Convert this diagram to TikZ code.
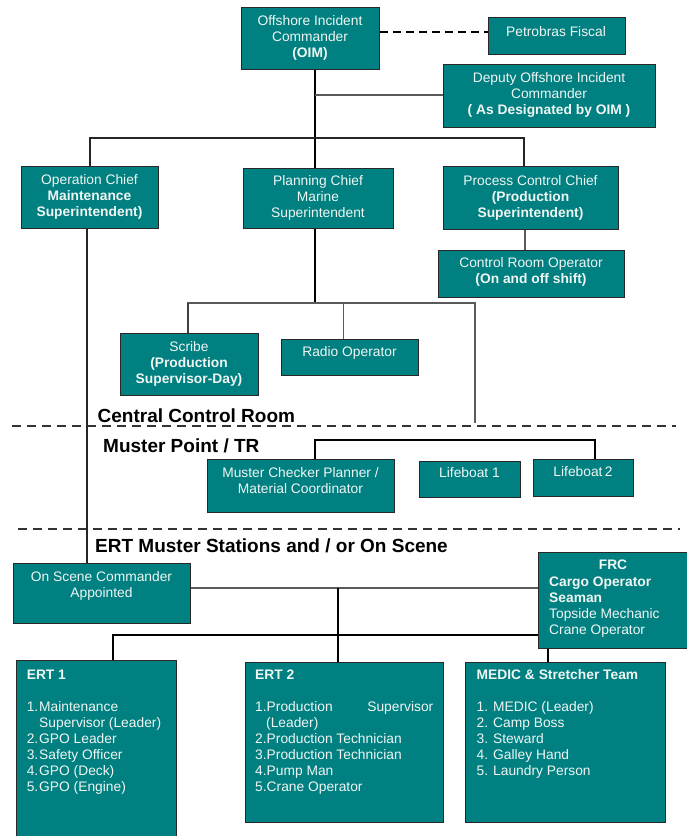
\documentclass[tikz,border=0pt]{standalone}
\usepackage{fontspec}
\setmainfont{Liberation Sans}
\usetikzlibrary{calc}
\definecolor{tealbox}{RGB}{0,128,128}
\definecolor{edgec}{RGB}{40,40,40}
\definecolor{linegray}{RGB}{90,90,90}
\definecolor{boxtext}{RGB}{240,246,244}
\begin{document}
\begin{tikzpicture}[x=1pt,y=-1pt,
  box/.style={draw=edgec, line width=1pt, fill=tealbox, inner sep=0pt, anchor=north west},
  txt/.style={text=boxtext, font=\fontsize{13.8}{16}\selectfont, align=center, inner sep=0pt},
  ltxt/.style={text=boxtext, font=\fontsize{13.8}{16}\selectfont, inner sep=0pt, anchor=base west},
  hdr/.style={font=\bfseries\fontsize{19}{22}\selectfont, inner sep=0pt, anchor=base west},
  conn/.style={line width=1.2pt, draw=black},
  gconn/.style={line width=1.8pt, draw=linegray},
  thick conn/.style={line width=2.2pt, draw=black!85},
  sepline/.style={line width=1.2pt, draw=black!80, dash pattern=on 9pt off 6pt}
]
\useasboundingbox[fill=white] (0,0) rectangle (687,836);

% ---------- boxes ----------
\node[box, minimum width=138pt, minimum height=62pt] (oim) at (241,7) {};
\node[box, minimum width=137pt, minimum height=37pt] (pf) at (488,17) {};
\node[box, minimum width=212pt, minimum height=63pt] (dep) at (443,64) {};
\node[box, minimum width=137pt, minimum height=62pt] (opc) at (21,166) {};
\node[box, minimum width=150pt, minimum height=60pt] (plc) at (243,168) {};
\node[box, minimum width=175pt, minimum height=63pt] (pcc) at (443,166) {};
\node[box, minimum width=186pt, minimum height=47pt] (cro) at (438,250) {};
\node[box, minimum width=138pt, minimum height=62pt] (scr) at (120,333) {};
\node[box, minimum width=137pt, minimum height=36pt] (rad) at (281,339) {};
\node[box, minimum width=187pt, minimum height=53pt] (mcp) at (207,459) {};
\node[box, minimum width=101pt, minimum height=36pt] (lbo) at (419,461) {};
\node[box, minimum width=100pt, minimum height=37pt] (lbt) at (533,459) {};
\node[box, minimum width=177pt, minimum height=60pt] (osc) at (13,563) {};
\node[box, minimum width=152pt, minimum height=96pt] (frc) at (538,552) {};
\node[box, minimum width=160pt, minimum height=185pt] (erto) at (15.5,660) {};
\node[box, minimum width=198pt, minimum height=160pt] (ertt) at (245,662) {};
\node[box, minimum width=200pt, minimum height=160pt] (med) at (465,662) {};

% ---------- box texts ----------
\node[txt] (oimt) at (310,38) {Offshore Incident\\Commander\\\textbf{(OIM)}};
\node[txt] (pft) at (556,32) {Petrobras Fiscal};
\node[txt] (dept) at (549,94.5) {Deputy Offshore Incident\\Commander\\\textbf{( As Designated by OIM )}};
\node[txt] (opct) at (89.5,196.5) {Operation Chief\\\textbf{Maintenance}\\\textbf{Superintendent)}};
\node[txt] (plct) at (318,198) {Planning Chief\\Marine\\Superintendent};
\node[txt] (pcct) at (530.5,197.5) {Process Control Chief\\\textbf{(Production}\\\textbf{Superintendent)}};
\node[txt] (crot) at (531,271.5) {Control Room Operator\\\textbf{(On and off shift)}};
\node[txt] (scrt) at (189,363.5) {Scribe\\\textbf{(Production}\\\textbf{Supervisor-Day)}};
\node[txt] (radt) at (349.5,352.5) {Radio Operator};
\node[txt] (mcpt) at (300.5,481) {Muster Checker Planner /\\Material Coordinator};
\node[txt] (lbot) at (469.5,473) {Lifeboat 1};
\node[txt] (lbtt) at (583,472) {Lifeboat\,2};
\node[txt] (osct) at (101.5,585.5) {On Scene Commander\\Appointed};

% FRC
\node[txt, font=\bfseries\fontsize{13.8}{16}\selectfont] (frch) at (613,565) {FRC};
\node[ltxt, font=\bfseries\fontsize{13.8}{16}\selectfont] (frc1) at (549,586) {Cargo Operator};
\node[ltxt, font=\bfseries\fontsize{13.8}{16}\selectfont] (frc2) at (549,602) {Seaman};
\node[ltxt] (frc3) at (549,618) {Topside Mechanic};
\node[ltxt] (frc4) at (549,634) {Crane Operator};

% ERT 1
\node[ltxt, font=\bfseries\fontsize{13.8}{16}\selectfont] (eoh) at (26.6,679) {ERT 1};
\node[ltxt] (eo1) at (26.6,711) {\makebox[12.4pt][l]{1.}Maintenance};
\node[ltxt] (eo1b) at (39,727) {Supervisor (Leader)};
\node[ltxt] (eo2) at (26.6,743) {\makebox[12.4pt][l]{2.}GPO Leader};
\node[ltxt] (eo3) at (26.6,759) {\makebox[12.4pt][l]{3.}Safety Officer};
\node[ltxt] (eo4) at (26.6,775) {\makebox[12.4pt][l]{4.}GPO (Deck)};
\node[ltxt] (eo5) at (26.6,791) {\makebox[12.4pt][l]{5.}GPO (Engine)};

% ERT 2
\node[ltxt, font=\bfseries\fontsize{13.8}{16}\selectfont] (eth) at (255,679) {ERT 2};
\node[ltxt] (et1) at (255,711) {1.Production};
\node[ltxt, anchor=base east] (et1s) at (433.5,711) {Supervisor};
\node[ltxt] (et1b) at (266,727) {(Leader)};
\node[ltxt] (et2) at (255,743) {2.Production Technician};
\node[ltxt] (et3) at (255,759) {3.Production Technician};
\node[ltxt] (et4) at (255,775) {4.Pump Man};
\node[ltxt] (et5) at (255,791) {5.Crane Operator};

% MEDIC
\node[ltxt, font=\bfseries\fontsize{13.8}{16}\selectfont] (mdh) at (476.5,679) {MEDIC \& Stretcher Team};
\node[ltxt] (md1) at (476.5,711) {\makebox[16.5pt][l]{1.}MEDIC (Leader)};
\node[ltxt] (md2) at (476.5,727) {\makebox[16.5pt][l]{2.}Camp Boss};
\node[ltxt] (md3) at (476.5,743) {\makebox[16.5pt][l]{3.}Steward};
\node[ltxt] (md4) at (476.5,759) {\makebox[16.5pt][l]{4.}Galley Hand};
\node[ltxt] (md5) at (476.5,775) {\makebox[16.5pt][l]{5.}Laundry Person};

% ---------- headers ----------
\node[hdr] (hccr) at (97.5,422) {Central Control Room};
\node[hdr] (hmp) at (103,452) {Muster Point / TR};
\node[hdr] (hert) at (95,552) {ERT Muster Stations and / or On Scene};

% ---------- separators ----------
\coordinate (sAa) at (12,426); \coordinate (sAb) at (676,426);
\coordinate (sBa) at (18,529); \coordinate (sBb) at (680,529);
\draw[sepline] (sAa) -- (sAb);
\draw[sepline] (sBa) -- (sBb);

% ---------- connectors ----------
\coordinate (yPF) at (430,32);
\draw[line width=1.3pt, dash pattern=on 8pt off 5pt] (oim.east |- yPF) -- (pf.west |- yPF);

\coordinate (jA) at (315,138);
\coordinate (jD) at (315,95);
\draw[conn] (oim.south -| jA) -- (plc.north -| jA);
\draw[gconn, line width=2.2pt] (jD) -- (dep.west |- jD);
\coordinate (jL) at (90,138); \coordinate (jR) at (524,138);
\draw[thick conn] (opc.north -| jL) -- (jL) -- (jR) -- (pcc.north -| jR);
\coordinate (jP) at (525,240);
\draw[gconn] (pcc.south -| jP) -- (cro.north -| jP);
\coordinate (jO) at (87,400);
\draw[thick conn] (opc.south -| jO) -- (osc.north -| jO);

\coordinate (jB) at (315,303);
\coordinate (jBa) at (188,303); \coordinate (jBb) at (343.5,303); \coordinate (jBc) at (475,303);
\coordinate (cfree) at (475,423);
\draw[conn] (plc.south -| jB) -- (jB);
\draw[gconn] (scr.north -| jBa) -- (jBa) -- (jBc) -- (cfree);
\draw[conn, draw=black!75] (scr.north -| jBa) -- (jBa);
\draw[gconn] (jBb) -- (rad.north -| jBb);

\coordinate (jMa) at (315,440); \coordinate (jMb) at (595,440);
\draw[conn] (mcp.north -| jMa) -- (jMa) -- (jMb) -- (lbt.north -| jMb);

\coordinate (jE) at (338,588);
\draw[gconn, line width=1.5pt] (osc.east |- jE) -- (frc.west |- jE);
\draw[conn] (jE) -- (ertt.north -| jE);
\coordinate (jF) at (113,635);
\draw[conn] (erto.north -| jF) -- (jF) -- (frc.west |- jF);
\coordinate (jG) at (548,655);
\draw[conn] (frc.south -| jG) -- (med.north -| jG);
\end{tikzpicture}
\end{document}
